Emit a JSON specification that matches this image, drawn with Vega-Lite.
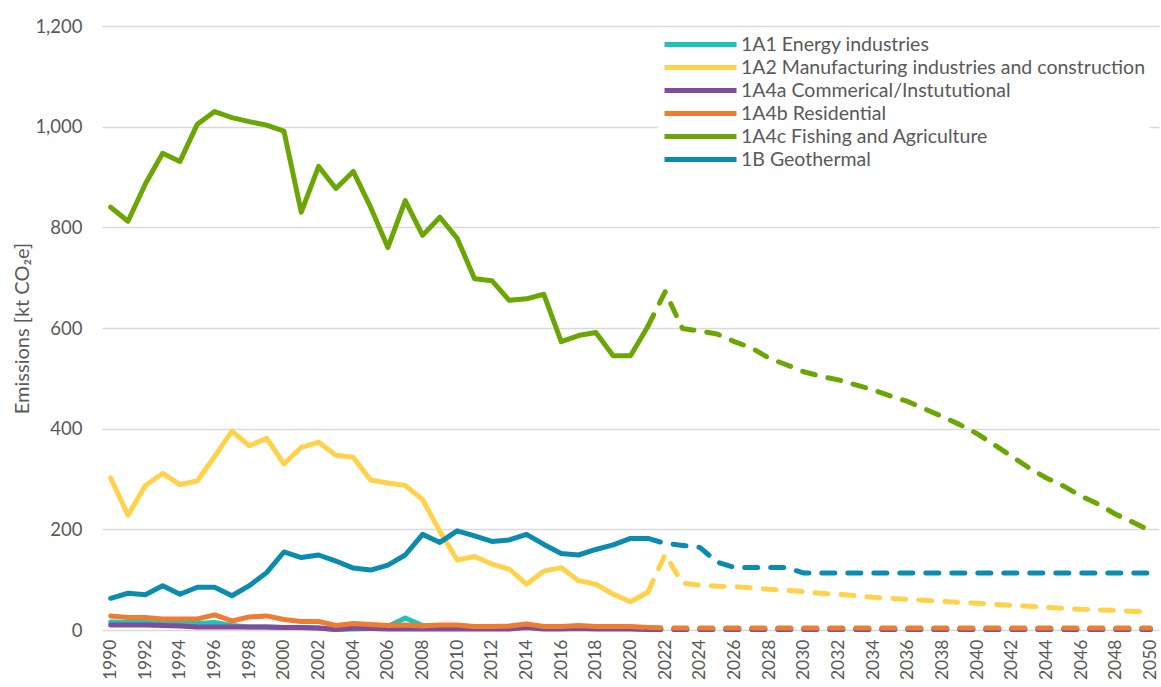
{
  "$schema": "https://vega.github.io/schema/vega-lite/v6.json",
  "width": 1057,
  "height": 604,
  "autosize": {"type": "none"},
  "padding": {"left": 102, "top": 26, "right": 2, "bottom": 57},
  "background": "white",
  "config": {"view": {"stroke": null}, "font": "Lato"},
  "datasets": {
    "hist": [
      {"year":1990,"series":"1A1 Energy industries","value":16},{"year":1991,"series":"1A1 Energy industries","value":15},{"year":1992,"series":"1A1 Energy industries","value":15},{"year":1993,"series":"1A1 Energy industries","value":14},{"year":1994,"series":"1A1 Energy industries","value":14},{"year":1995,"series":"1A1 Energy industries","value":13},{"year":1996,"series":"1A1 Energy industries","value":15},{"year":1997,"series":"1A1 Energy industries","value":9},{"year":1998,"series":"1A1 Energy industries","value":6},{"year":1999,"series":"1A1 Energy industries","value":6},{"year":2000,"series":"1A1 Energy industries","value":5},{"year":2001,"series":"1A1 Energy industries","value":5},{"year":2002,"series":"1A1 Energy industries","value":4},{"year":2003,"series":"1A1 Energy industries","value":1},{"year":2004,"series":"1A1 Energy industries","value":2},{"year":2005,"series":"1A1 Energy industries","value":3},{"year":2006,"series":"1A1 Energy industries","value":7},{"year":2007,"series":"1A1 Energy industries","value":24},{"year":2008,"series":"1A1 Energy industries","value":9},{"year":2009,"series":"1A1 Energy industries","value":8},{"year":2010,"series":"1A1 Energy industries","value":8},{"year":2011,"series":"1A1 Energy industries","value":5},{"year":2012,"series":"1A1 Energy industries","value":5},{"year":2013,"series":"1A1 Energy industries","value":5},{"year":2014,"series":"1A1 Energy industries","value":5},{"year":2015,"series":"1A1 Energy industries","value":4},{"year":2016,"series":"1A1 Energy industries","value":4},{"year":2017,"series":"1A1 Energy industries","value":4},{"year":2018,"series":"1A1 Energy industries","value":4},{"year":2019,"series":"1A1 Energy industries","value":3},{"year":2020,"series":"1A1 Energy industries","value":3},{"year":2021,"series":"1A1 Energy industries","value":2},

      {"year":1990,"series":"1A2 Manufacturing industries and construction","value":302},{"year":1991,"series":"1A2 Manufacturing industries and construction","value":228},{"year":1992,"series":"1A2 Manufacturing industries and construction","value":287},{"year":1993,"series":"1A2 Manufacturing industries and construction","value":311},{"year":1994,"series":"1A2 Manufacturing industries and construction","value":289},{"year":1995,"series":"1A2 Manufacturing industries and construction","value":296},{"year":1996,"series":"1A2 Manufacturing industries and construction","value":345},{"year":1997,"series":"1A2 Manufacturing industries and construction","value":395},{"year":1998,"series":"1A2 Manufacturing industries and construction","value":366},{"year":1999,"series":"1A2 Manufacturing industries and construction","value":381},{"year":2000,"series":"1A2 Manufacturing industries and construction","value":330},{"year":2001,"series":"1A2 Manufacturing industries and construction","value":363},{"year":2002,"series":"1A2 Manufacturing industries and construction","value":373},{"year":2003,"series":"1A2 Manufacturing industries and construction","value":347},{"year":2004,"series":"1A2 Manufacturing industries and construction","value":343},{"year":2005,"series":"1A2 Manufacturing industries and construction","value":298},{"year":2006,"series":"1A2 Manufacturing industries and construction","value":292},{"year":2007,"series":"1A2 Manufacturing industries and construction","value":287},{"year":2008,"series":"1A2 Manufacturing industries and construction","value":259},{"year":2009,"series":"1A2 Manufacturing industries and construction","value":196},{"year":2010,"series":"1A2 Manufacturing industries and construction","value":139},{"year":2011,"series":"1A2 Manufacturing industries and construction","value":146},{"year":2012,"series":"1A2 Manufacturing industries and construction","value":131},{"year":2013,"series":"1A2 Manufacturing industries and construction","value":121},{"year":2014,"series":"1A2 Manufacturing industries and construction","value":91},{"year":2015,"series":"1A2 Manufacturing industries and construction","value":117},{"year":2016,"series":"1A2 Manufacturing industries and construction","value":124},{"year":2017,"series":"1A2 Manufacturing industries and construction","value":98},{"year":2018,"series":"1A2 Manufacturing industries and construction","value":91},{"year":2019,"series":"1A2 Manufacturing industries and construction","value":71},{"year":2020,"series":"1A2 Manufacturing industries and construction","value":56},{"year":2021,"series":"1A2 Manufacturing industries and construction","value":75},

      {"year":1990,"series":"1A4a Commerical/Instututional","value":10},{"year":1991,"series":"1A4a Commerical/Instututional","value":10},{"year":1992,"series":"1A4a Commerical/Instututional","value":10},{"year":1993,"series":"1A4a Commerical/Instututional","value":9},{"year":1994,"series":"1A4a Commerical/Instututional","value":8},{"year":1995,"series":"1A4a Commerical/Instututional","value":6},{"year":1996,"series":"1A4a Commerical/Instututional","value":6},{"year":1997,"series":"1A4a Commerical/Instututional","value":6},{"year":1998,"series":"1A4a Commerical/Instututional","value":6},{"year":1999,"series":"1A4a Commerical/Instututional","value":6},{"year":2000,"series":"1A4a Commerical/Instututional","value":5},{"year":2001,"series":"1A4a Commerical/Instututional","value":5},{"year":2002,"series":"1A4a Commerical/Instututional","value":4},{"year":2003,"series":"1A4a Commerical/Instututional","value":1},{"year":2004,"series":"1A4a Commerical/Instututional","value":4},{"year":2005,"series":"1A4a Commerical/Instututional","value":3},{"year":2006,"series":"1A4a Commerical/Instututional","value":2},{"year":2007,"series":"1A4a Commerical/Instututional","value":2},{"year":2008,"series":"1A4a Commerical/Instututional","value":2},{"year":2009,"series":"1A4a Commerical/Instututional","value":2},{"year":2010,"series":"1A4a Commerical/Instututional","value":2},{"year":2011,"series":"1A4a Commerical/Instututional","value":2},{"year":2012,"series":"1A4a Commerical/Instututional","value":2},{"year":2013,"series":"1A4a Commerical/Instututional","value":2},{"year":2014,"series":"1A4a Commerical/Instututional","value":5},{"year":2015,"series":"1A4a Commerical/Instututional","value":2},{"year":2016,"series":"1A4a Commerical/Instututional","value":2},{"year":2017,"series":"1A4a Commerical/Instututional","value":3},{"year":2018,"series":"1A4a Commerical/Instututional","value":2},{"year":2019,"series":"1A4a Commerical/Instututional","value":2},{"year":2020,"series":"1A4a Commerical/Instututional","value":2},{"year":2021,"series":"1A4a Commerical/Instututional","value":1},

      {"year":1990,"series":"1A4b Residential","value":28},{"year":1991,"series":"1A4b Residential","value":25},{"year":1992,"series":"1A4b Residential","value":25},{"year":1993,"series":"1A4b Residential","value":22},{"year":1994,"series":"1A4b Residential","value":22},{"year":1995,"series":"1A4b Residential","value":22},{"year":1996,"series":"1A4b Residential","value":30},{"year":1997,"series":"1A4b Residential","value":18},{"year":1998,"series":"1A4b Residential","value":26},{"year":1999,"series":"1A4b Residential","value":28},{"year":2000,"series":"1A4b Residential","value":21},{"year":2001,"series":"1A4b Residential","value":17},{"year":2002,"series":"1A4b Residential","value":17},{"year":2003,"series":"1A4b Residential","value":9},{"year":2004,"series":"1A4b Residential","value":13},{"year":2005,"series":"1A4b Residential","value":11},{"year":2006,"series":"1A4b Residential","value":9},{"year":2007,"series":"1A4b Residential","value":10},{"year":2008,"series":"1A4b Residential","value":8},{"year":2009,"series":"1A4b Residential","value":10},{"year":2010,"series":"1A4b Residential","value":10},{"year":2011,"series":"1A4b Residential","value":7},{"year":2012,"series":"1A4b Residential","value":7},{"year":2013,"series":"1A4b Residential","value":8},{"year":2014,"series":"1A4b Residential","value":12},{"year":2015,"series":"1A4b Residential","value":7},{"year":2016,"series":"1A4b Residential","value":7},{"year":2017,"series":"1A4b Residential","value":9},{"year":2018,"series":"1A4b Residential","value":7},{"year":2019,"series":"1A4b Residential","value":7},{"year":2020,"series":"1A4b Residential","value":7},{"year":2021,"series":"1A4b Residential","value":5},

      {"year":1990,"series":"1A4c Fishing and Agriculture","value":840},{"year":1991,"series":"1A4c Fishing and Agriculture","value":812},{"year":1992,"series":"1A4c Fishing and Agriculture","value":886},{"year":1993,"series":"1A4c Fishing and Agriculture","value":947},{"year":1994,"series":"1A4c Fishing and Agriculture","value":931},{"year":1995,"series":"1A4c Fishing and Agriculture","value":1005},{"year":1996,"series":"1A4c Fishing and Agriculture","value":1030},{"year":1997,"series":"1A4c Fishing and Agriculture","value":1018},{"year":1998,"series":"1A4c Fishing and Agriculture","value":1010},{"year":1999,"series":"1A4c Fishing and Agriculture","value":1003},{"year":2000,"series":"1A4c Fishing and Agriculture","value":991},{"year":2001,"series":"1A4c Fishing and Agriculture","value":830},{"year":2002,"series":"1A4c Fishing and Agriculture","value":921},{"year":2003,"series":"1A4c Fishing and Agriculture","value":877},{"year":2004,"series":"1A4c Fishing and Agriculture","value":911},{"year":2005,"series":"1A4c Fishing and Agriculture","value":840},{"year":2006,"series":"1A4c Fishing and Agriculture","value":760},{"year":2007,"series":"1A4c Fishing and Agriculture","value":853},{"year":2008,"series":"1A4c Fishing and Agriculture","value":784},{"year":2009,"series":"1A4c Fishing and Agriculture","value":820},{"year":2010,"series":"1A4c Fishing and Agriculture","value":778},{"year":2011,"series":"1A4c Fishing and Agriculture","value":698},{"year":2012,"series":"1A4c Fishing and Agriculture","value":694},{"year":2013,"series":"1A4c Fishing and Agriculture","value":655},{"year":2014,"series":"1A4c Fishing and Agriculture","value":658},{"year":2015,"series":"1A4c Fishing and Agriculture","value":667},{"year":2016,"series":"1A4c Fishing and Agriculture","value":573},{"year":2017,"series":"1A4c Fishing and Agriculture","value":585},{"year":2018,"series":"1A4c Fishing and Agriculture","value":591},{"year":2019,"series":"1A4c Fishing and Agriculture","value":545},{"year":2020,"series":"1A4c Fishing and Agriculture","value":545},{"year":2021,"series":"1A4c Fishing and Agriculture","value":603},

      {"year":1990,"series":"1B Geothermal","value":63},{"year":1991,"series":"1B Geothermal","value":73},{"year":1992,"series":"1B Geothermal","value":70},{"year":1993,"series":"1B Geothermal","value":88},{"year":1994,"series":"1B Geothermal","value":71},{"year":1995,"series":"1B Geothermal","value":85},{"year":1996,"series":"1B Geothermal","value":85},{"year":1997,"series":"1B Geothermal","value":68},{"year":1998,"series":"1B Geothermal","value":88},{"year":1999,"series":"1B Geothermal","value":114},{"year":2000,"series":"1B Geothermal","value":155},{"year":2001,"series":"1B Geothermal","value":144},{"year":2002,"series":"1B Geothermal","value":149},{"year":2003,"series":"1B Geothermal","value":137},{"year":2004,"series":"1B Geothermal","value":123},{"year":2005,"series":"1B Geothermal","value":119},{"year":2006,"series":"1B Geothermal","value":129},{"year":2007,"series":"1B Geothermal","value":149},{"year":2008,"series":"1B Geothermal","value":190},{"year":2009,"series":"1B Geothermal","value":174},{"year":2010,"series":"1B Geothermal","value":197},{"year":2011,"series":"1B Geothermal","value":187},{"year":2012,"series":"1B Geothermal","value":176},{"year":2013,"series":"1B Geothermal","value":179},{"year":2014,"series":"1B Geothermal","value":190},{"year":2015,"series":"1B Geothermal","value":170},{"year":2016,"series":"1B Geothermal","value":152},{"year":2017,"series":"1B Geothermal","value":149},{"year":2018,"series":"1B Geothermal","value":160},{"year":2019,"series":"1B Geothermal","value":169},{"year":2020,"series":"1B Geothermal","value":182},{"year":2021,"series":"1B Geothermal","value":182}
    ],
    "proj": [
      {"year":2021,"series":"1A1 Energy industries","value":2},{"year":2022,"series":"1A1 Energy industries","value":2},{"year":2023,"series":"1A1 Energy industries","value":2},{"year":2024,"series":"1A1 Energy industries","value":2},{"year":2025,"series":"1A1 Energy industries","value":2},{"year":2026,"series":"1A1 Energy industries","value":2},{"year":2027,"series":"1A1 Energy industries","value":2},{"year":2028,"series":"1A1 Energy industries","value":2},{"year":2029,"series":"1A1 Energy industries","value":3},{"year":2030,"series":"1A1 Energy industries","value":3},{"year":2031,"series":"1A1 Energy industries","value":2},{"year":2032,"series":"1A1 Energy industries","value":2},{"year":2033,"series":"1A1 Energy industries","value":2},{"year":2034,"series":"1A1 Energy industries","value":2},{"year":2035,"series":"1A1 Energy industries","value":2},{"year":2036,"series":"1A1 Energy industries","value":2},{"year":2037,"series":"1A1 Energy industries","value":2},{"year":2038,"series":"1A1 Energy industries","value":2},{"year":2039,"series":"1A1 Energy industries","value":2},{"year":2040,"series":"1A1 Energy industries","value":2},{"year":2041,"series":"1A1 Energy industries","value":2},{"year":2042,"series":"1A1 Energy industries","value":2},{"year":2043,"series":"1A1 Energy industries","value":2},{"year":2044,"series":"1A1 Energy industries","value":2},{"year":2045,"series":"1A1 Energy industries","value":2},{"year":2046,"series":"1A1 Energy industries","value":2},{"year":2047,"series":"1A1 Energy industries","value":2},{"year":2048,"series":"1A1 Energy industries","value":2},{"year":2049,"series":"1A1 Energy industries","value":2},{"year":2050,"series":"1A1 Energy industries","value":2},

      {"year":2021,"series":"1A2 Manufacturing industries and construction","value":75},{"year":2022,"series":"1A2 Manufacturing industries and construction","value":150},{"year":2023,"series":"1A2 Manufacturing industries and construction","value":93},{"year":2024,"series":"1A2 Manufacturing industries and construction","value":89},{"year":2025,"series":"1A2 Manufacturing industries and construction","value":87},{"year":2026,"series":"1A2 Manufacturing industries and construction","value":86},{"year":2027,"series":"1A2 Manufacturing industries and construction","value":84},{"year":2028,"series":"1A2 Manufacturing industries and construction","value":81},{"year":2029,"series":"1A2 Manufacturing industries and construction","value":79},{"year":2030,"series":"1A2 Manufacturing industries and construction","value":76},{"year":2031,"series":"1A2 Manufacturing industries and construction","value":73},{"year":2032,"series":"1A2 Manufacturing industries and construction","value":71},{"year":2033,"series":"1A2 Manufacturing industries and construction","value":68},{"year":2034,"series":"1A2 Manufacturing industries and construction","value":65},{"year":2035,"series":"1A2 Manufacturing industries and construction","value":63},{"year":2036,"series":"1A2 Manufacturing industries and construction","value":61},{"year":2037,"series":"1A2 Manufacturing industries and construction","value":59},{"year":2038,"series":"1A2 Manufacturing industries and construction","value":57},{"year":2039,"series":"1A2 Manufacturing industries and construction","value":55},{"year":2040,"series":"1A2 Manufacturing industries and construction","value":53},{"year":2041,"series":"1A2 Manufacturing industries and construction","value":51},{"year":2042,"series":"1A2 Manufacturing industries and construction","value":49},{"year":2043,"series":"1A2 Manufacturing industries and construction","value":47},{"year":2044,"series":"1A2 Manufacturing industries and construction","value":45},{"year":2045,"series":"1A2 Manufacturing industries and construction","value":43},{"year":2046,"series":"1A2 Manufacturing industries and construction","value":41},{"year":2047,"series":"1A2 Manufacturing industries and construction","value":40},{"year":2048,"series":"1A2 Manufacturing industries and construction","value":39},{"year":2049,"series":"1A2 Manufacturing industries and construction","value":37},{"year":2050,"series":"1A2 Manufacturing industries and construction","value":36},

      {"year":2021,"series":"1A4a Commerical/Instututional","value":1},{"year":2022,"series":"1A4a Commerical/Instututional","value":1},{"year":2023,"series":"1A4a Commerical/Instututional","value":1},{"year":2024,"series":"1A4a Commerical/Instututional","value":1},{"year":2025,"series":"1A4a Commerical/Instututional","value":1},{"year":2026,"series":"1A4a Commerical/Instututional","value":1},{"year":2027,"series":"1A4a Commerical/Instututional","value":1},{"year":2028,"series":"1A4a Commerical/Instututional","value":1},{"year":2029,"series":"1A4a Commerical/Instututional","value":1},{"year":2030,"series":"1A4a Commerical/Instututional","value":1},{"year":2031,"series":"1A4a Commerical/Instututional","value":1},{"year":2032,"series":"1A4a Commerical/Instututional","value":1},{"year":2033,"series":"1A4a Commerical/Instututional","value":1},{"year":2034,"series":"1A4a Commerical/Instututional","value":1},{"year":2035,"series":"1A4a Commerical/Instututional","value":1},{"year":2036,"series":"1A4a Commerical/Instututional","value":1},{"year":2037,"series":"1A4a Commerical/Instututional","value":1},{"year":2038,"series":"1A4a Commerical/Instututional","value":1},{"year":2039,"series":"1A4a Commerical/Instututional","value":1},{"year":2040,"series":"1A4a Commerical/Instututional","value":1},{"year":2041,"series":"1A4a Commerical/Instututional","value":1},{"year":2042,"series":"1A4a Commerical/Instututional","value":1},{"year":2043,"series":"1A4a Commerical/Instututional","value":1},{"year":2044,"series":"1A4a Commerical/Instututional","value":1},{"year":2045,"series":"1A4a Commerical/Instututional","value":1},{"year":2046,"series":"1A4a Commerical/Instututional","value":1},{"year":2047,"series":"1A4a Commerical/Instututional","value":1},{"year":2048,"series":"1A4a Commerical/Instututional","value":1},{"year":2049,"series":"1A4a Commerical/Instututional","value":1},{"year":2050,"series":"1A4a Commerical/Instututional","value":1},

      {"year":2021,"series":"1A4b Residential","value":5},{"year":2022,"series":"1A4b Residential","value":4},{"year":2023,"series":"1A4b Residential","value":4},{"year":2024,"series":"1A4b Residential","value":4},{"year":2025,"series":"1A4b Residential","value":4},{"year":2026,"series":"1A4b Residential","value":4},{"year":2027,"series":"1A4b Residential","value":4},{"year":2028,"series":"1A4b Residential","value":4},{"year":2029,"series":"1A4b Residential","value":4},{"year":2030,"series":"1A4b Residential","value":4},{"year":2031,"series":"1A4b Residential","value":4},{"year":2032,"series":"1A4b Residential","value":4},{"year":2033,"series":"1A4b Residential","value":4},{"year":2034,"series":"1A4b Residential","value":4},{"year":2035,"series":"1A4b Residential","value":4},{"year":2036,"series":"1A4b Residential","value":4},{"year":2037,"series":"1A4b Residential","value":4},{"year":2038,"series":"1A4b Residential","value":4},{"year":2039,"series":"1A4b Residential","value":4},{"year":2040,"series":"1A4b Residential","value":4},{"year":2041,"series":"1A4b Residential","value":4},{"year":2042,"series":"1A4b Residential","value":4},{"year":2043,"series":"1A4b Residential","value":4},{"year":2044,"series":"1A4b Residential","value":4},{"year":2045,"series":"1A4b Residential","value":4},{"year":2046,"series":"1A4b Residential","value":4},{"year":2047,"series":"1A4b Residential","value":4},{"year":2048,"series":"1A4b Residential","value":4},{"year":2049,"series":"1A4b Residential","value":4},{"year":2050,"series":"1A4b Residential","value":4},

      {"year":2021,"series":"1A4c Fishing and Agriculture","value":603},{"year":2022,"series":"1A4c Fishing and Agriculture","value":672},{"year":2023,"series":"1A4c Fishing and Agriculture","value":599},{"year":2024,"series":"1A4c Fishing and Agriculture","value":594},{"year":2025,"series":"1A4c Fishing and Agriculture","value":588},{"year":2026,"series":"1A4c Fishing and Agriculture","value":573},{"year":2027,"series":"1A4c Fishing and Agriculture","value":560},{"year":2028,"series":"1A4c Fishing and Agriculture","value":540},{"year":2029,"series":"1A4c Fishing and Agriculture","value":527},{"year":2030,"series":"1A4c Fishing and Agriculture","value":513},{"year":2031,"series":"1A4c Fishing and Agriculture","value":504},{"year":2032,"series":"1A4c Fishing and Agriculture","value":497},{"year":2033,"series":"1A4c Fishing and Agriculture","value":487},{"year":2034,"series":"1A4c Fishing and Agriculture","value":477},{"year":2035,"series":"1A4c Fishing and Agriculture","value":465},{"year":2036,"series":"1A4c Fishing and Agriculture","value":454},{"year":2037,"series":"1A4c Fishing and Agriculture","value":439},{"year":2038,"series":"1A4c Fishing and Agriculture","value":424},{"year":2039,"series":"1A4c Fishing and Agriculture","value":408},{"year":2040,"series":"1A4c Fishing and Agriculture","value":390},{"year":2041,"series":"1A4c Fishing and Agriculture","value":368},{"year":2042,"series":"1A4c Fishing and Agriculture","value":345},{"year":2043,"series":"1A4c Fishing and Agriculture","value":322},{"year":2044,"series":"1A4c Fishing and Agriculture","value":302},{"year":2045,"series":"1A4c Fishing and Agriculture","value":286},{"year":2046,"series":"1A4c Fishing and Agriculture","value":266},{"year":2047,"series":"1A4c Fishing and Agriculture","value":250},{"year":2048,"series":"1A4c Fishing and Agriculture","value":230},{"year":2049,"series":"1A4c Fishing and Agriculture","value":214},{"year":2050,"series":"1A4c Fishing and Agriculture","value":197},

      {"year":2021,"series":"1B Geothermal","value":182},{"year":2022,"series":"1B Geothermal","value":172},{"year":2023,"series":"1B Geothermal","value":168},{"year":2024,"series":"1B Geothermal","value":164},{"year":2025,"series":"1B Geothermal","value":135},{"year":2026,"series":"1B Geothermal","value":124},{"year":2027,"series":"1B Geothermal","value":124},{"year":2028,"series":"1B Geothermal","value":124},{"year":2029,"series":"1B Geothermal","value":124},{"year":2030,"series":"1B Geothermal","value":113},{"year":2031,"series":"1B Geothermal","value":113},{"year":2032,"series":"1B Geothermal","value":113},{"year":2033,"series":"1B Geothermal","value":113},{"year":2034,"series":"1B Geothermal","value":113},{"year":2035,"series":"1B Geothermal","value":113},{"year":2036,"series":"1B Geothermal","value":113},{"year":2037,"series":"1B Geothermal","value":113},{"year":2038,"series":"1B Geothermal","value":113},{"year":2039,"series":"1B Geothermal","value":113},{"year":2040,"series":"1B Geothermal","value":113},{"year":2041,"series":"1B Geothermal","value":113},{"year":2042,"series":"1B Geothermal","value":113},{"year":2043,"series":"1B Geothermal","value":113},{"year":2044,"series":"1B Geothermal","value":113},{"year":2045,"series":"1B Geothermal","value":113},{"year":2046,"series":"1B Geothermal","value":113},{"year":2047,"series":"1B Geothermal","value":113},{"year":2048,"series":"1B Geothermal","value":113},{"year":2049,"series":"1B Geothermal","value":113},{"year":2050,"series":"1B Geothermal","value":113}
    ]
  },
  "encoding": {
    "x": {
      "field": "year", "type": "quantitative",
      "scale": {"domain": [1989.5, 2050.5], "nice": false, "zero": false},
      "axis": {
        "values": [1990,1992,1994,1996,1998,2000,2002,2004,2006,2008,2010,2012,2014,2016,2018,2020,2022,2024,2026,2028,2030,2032,2034,2036,2038,2040,2042,2044,2046,2048,2050],
        "format": "d", "title": null, "labelAngle": -90, "labelAlign": "right", "labelBaseline": "middle",
        "labelFontSize": 17.5, "labelColor": "#595959", "labelPadding": 9,
        "ticks": false, "domain": false, "grid": false, "labelOverlap": false
      }
    },
    "y": {
      "field": "value", "type": "quantitative",
      "scale": {"domain": [0, 1200], "nice": false},
      "axis": {
        "values": [0,200,400,600,800,1000,1200], "format": ",.0f",
        "title": "Emissions [kt CO₂e]", "titleFontSize": 20, "titleFontWeight": "normal", "titleColor": "#595959", "titlePadding": 2,
        "labelFontSize": 18.5, "labelColor": "#595959", "labelPadding": 20,
        "ticks": false, "domain": false, "gridColor": "#D9D9D9", "gridWidth": 1.5
      }
    },
    "color": {
      "field": "series", "type": "nominal",
      "scale": {
        "domain": ["1A1 Energy industries","1A2 Manufacturing industries and construction","1A4a Commerical/Instututional","1A4b Residential","1A4c Fishing and Agriculture","1B Geothermal"],
        "range": ["#20C2BA","#FFD24C","#834C9A","#ED7D31","#6BA604","#0B8CAF"]
      },
      "legend": {
        "orient": "none", "legendX": 556, "legendY": 3, "title": null,
        "symbolType": "stroke", "symbolSize": 5184, "symbolStrokeWidth": 5, "symbolDash": [],
        "clipHeight": 23, "rowPadding": 0, "labelFontSize": 19.5, "labelColor": "#595959", "labelOffset": 2,
        "fillColor": "white", "padding": 4, "labelLimit": 600
      }
    }
  },
  "layer": [
    {
      "data": {"name": "hist"},
      "mark": {"type": "line", "strokeWidth": 5, "strokeCap": "round", "strokeJoin": "round"}
    },
    {
      "data": {"name": "proj"},
      "mark": {"type": "line", "strokeWidth": 5, "strokeCap": "round", "strokeJoin": "round", "strokeDash": [13, 13]}
    }
  ]
}
